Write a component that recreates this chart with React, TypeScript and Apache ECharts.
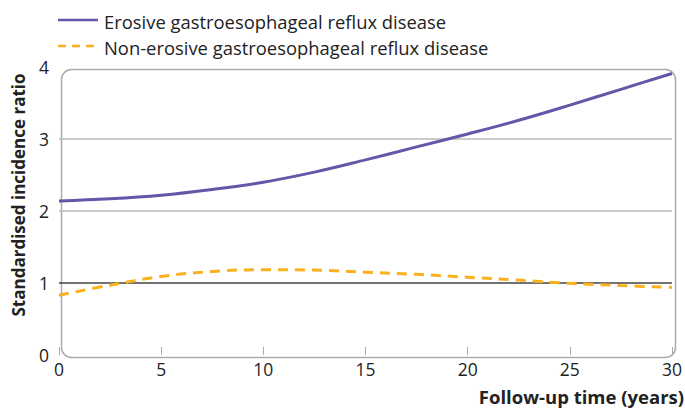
import React, { useEffect, useRef } from "react";
import * as echarts from "echarts";

const years = [0, 2.5, 5, 7.5, 10, 12.5, 15, 17.5, 20, 22.5, 25, 27.5, 30];
const erosive = [2.14, 2.17, 2.22, 2.3, 2.4, 2.54, 2.71, 2.89, 3.07, 3.26, 3.47, 3.69, 3.91];
const nonErosive = [0.83, 0.97, 1.09, 1.16, 1.185, 1.18, 1.15, 1.12, 1.08, 1.04, 0.995, 0.965, 0.94];
const seriesNames = [
  "Erosive gastroesophageal reflux disease",
  "Non-erosive gastroesophageal reflux disease",
];
const xTicks = [0, 5, 10, 15, 20, 25, 30];
const yTicks = [0, 1, 2, 3, 4];

const FONT = "'Open Sans'";
const PURPLE = "#6556a8";
const ORANGE = "#fbb01e";
const G = { left: 59, right: 12, top: 67, bottom: 55 };

export default function App() {
  const ref = useRef<HTMLDivElement>(null);
  useEffect(() => {
    if (!ref.current) return;
    const chart = echarts.init(ref.current, undefined, { renderer: "svg" });
    const W = 685, H = 410;
    chart.setOption({
      animation: false,
      textStyle: { fontFamily: FONT },
      grid: { ...G },
      xAxis: {
        type: "value",
        min: 0,
        max: 30,
        interval: 5,
        axisLine: { show: false },
        axisTick: { show: true, inside: true, length: 8, lineStyle: { color: "#aaa" } },
        splitLine: { show: false },
        axisLabel: {
          fontSize: 17.5,
          color: "#222",
          margin: 5,
          fontFamily: FONT,
          formatter: (v: number) => (xTicks.includes(v) ? String(v) : ""),
        },
      },
      yAxis: {
        type: "value",
        min: 0,
        max: 4,
        interval: 1,
        axisLine: { show: false },
        axisTick: { show: false },
        axisLabel: {
          fontSize: 17.5,
          color: "#222",
          margin: 10,
          fontFamily: FONT,
          formatter: (v: number) => (yTicks.includes(v) ? String(v) : ""),
        },
        splitLine: {
          show: true,
          lineStyle: { color: ["rgba(0,0,0,0)", "#444", "#bbb", "#bbb", "rgba(0,0,0,0)"], width: 1.5 },
        },
      },
      graphic: [
        {
          type: "rect",
          left: G.left,
          top: G.top,
          shape: { x: 0, y: 0, width: W - G.left - G.right, height: H - G.top - G.bottom, r: 10 },
          style: { fill: "none", stroke: "#aaa", lineWidth: 1.5 },
          silent: true,
          z: 0,
        },
        {
          type: "line",
          shape: { x1: 58, y1: 20, x2: 98, y2: 20 },
          style: { stroke: PURPLE, lineWidth: 2.5 },
        },
        {
          type: "line",
          shape: { x1: 58, y1: 46, x2: 98, y2: 46 },
          style: { stroke: ORANGE, lineWidth: 2.5, lineDash: [8, 6] },
        },
        {
          type: "text",
          x: 104,
          y: 21,
          style: { text: seriesNames[0], font: `18.4px ${FONT}`, fill: "#222", verticalAlign: "middle" },
        },
        {
          type: "text",
          x: 104,
          y: 47,
          style: { text: seriesNames[1], font: `18.4px ${FONT}`, fill: "#222", verticalAlign: "middle" },
        },
        {
          type: "text",
          x: 18,
          y: 195,
          rotation: Math.PI / 2,
          style: {
            text: "Standardised incidence ratio",
            font: `bold 17px ${FONT}`,
            fill: "#222",
            align: "center",
            verticalAlign: "middle",
          },
        },
        {
          type: "text",
          right: 1,
          bottom: 4,
          style: {
            text: "Follow-up time (years)",
            font: `bold 18.5px ${FONT}`,
            fill: "#222",
          },
        },
      ],
      series: [
        {
          name: seriesNames[0],
          type: "line",
          data: years.map((x, i) => [x, erosive[i]]),
          smooth: 0.4,
          showSymbol: false,
          symbol: "none",
          lineStyle: { color: PURPLE, width: 3 },
          itemStyle: { color: PURPLE },
          z: 3,
        },
        {
          name: seriesNames[1],
          type: "line",
          data: years.map((x, i) => [x, nonErosive[i]]),
          smooth: 0.4,
          showSymbol: false,
          symbol: "none",
          lineStyle: { color: ORANGE, width: 3, type: [10, 7] },
          itemStyle: { color: ORANGE },
          z: 3,
        },
      ],
    });
    return () => chart.dispose();
  }, []);
  return (
    <div
      ref={ref}
      style={{ width: 685, height: 410, position: "absolute", left: 0, top: 0 }}
    />
  );
}
